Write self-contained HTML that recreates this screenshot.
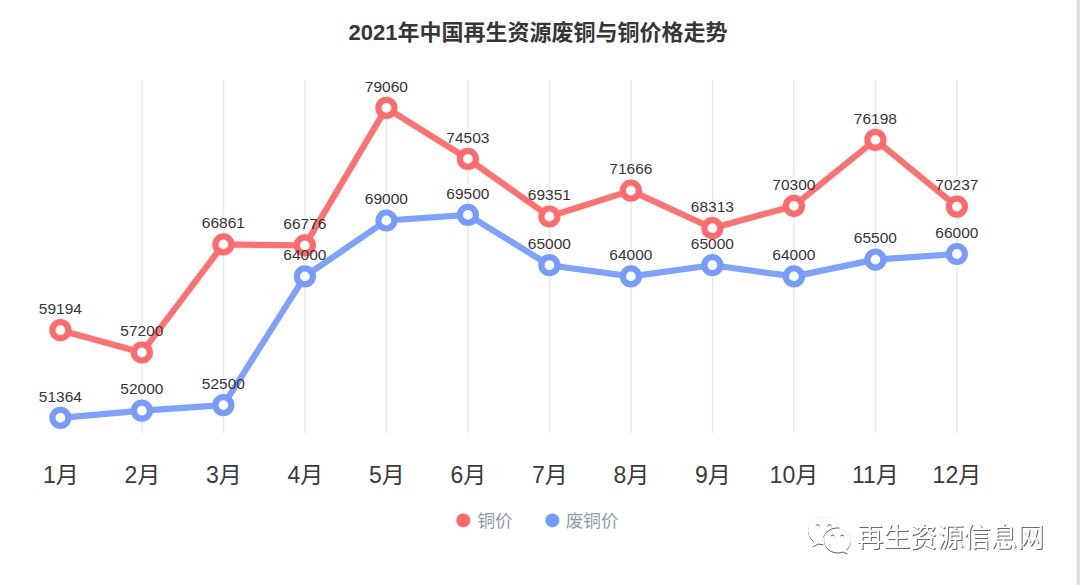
<!DOCTYPE html>
<html lang="zh"><head><meta charset="utf-8"><title>2021年中国再生资源废铜与铜价格走势</title>
<style>
html,body{margin:0;padding:0;background:#fff}
body{width:1080px;height:585px;overflow:hidden;position:relative;font-family:"Liberation Sans",sans-serif}
svg{position:absolute;left:0;top:0;display:block}
</style></head><body>
<svg width="1080" height="585" viewBox="0 0 1080 585">
<defs><filter id="ws" x="-5%" y="-20%" width="110%" height="140%" color-interpolation-filters="sRGB"><feGaussianBlur in="SourceAlpha" stdDeviation="0.45" result="b"/><feOffset in="b" dx="0.95" dy="0.95" result="o"/><feFlood flood-color="#6a6a6a" flood-opacity="1"/><feComposite in2="o" operator="in" result="sh"/><feMerge><feMergeNode in="sh"/><feMergeNode in="SourceGraphic"/></feMerge></filter><filter id="wl" x="-20%" y="-20%" width="140%" height="140%" color-interpolation-filters="sRGB"><feGaussianBlur in="SourceAlpha" stdDeviation="0.6" result="b"/><feOffset in="b" dx="0.35" dy="1.0" result="o"/><feFlood flood-color="#606060" flood-opacity="1"/><feComposite in2="o" operator="in" result="sh"/><feGaussianBlur in="SourceAlpha" stdDeviation="0.6" result="b2"/><feFlood flood-color="#707070" flood-opacity="0.5"/><feComposite in2="b2" operator="in" result="gl"/><feMerge><feMergeNode in="gl"/><feMergeNode in="sh"/><feMergeNode in="SourceGraphic"/></feMerge></filter><mask id="cut" maskUnits="userSpaceOnUse" x="800" y="510" width="60" height="50"><rect x="800" y="510" width="60" height="50" fill="#fff"/><ellipse cx="837.6" cy="540.6" rx="14.8" ry="13.2" fill="#000"/></mask></defs>
<rect x="1076" y="0" width="1" height="585" fill="#f9f9fb"/>
<rect x="1077" y="0" width="1" height="585" fill="#d9dbe1"/>
<rect x="1078" y="0" width="1" height="585" fill="#dcdee4"/>
<rect x="1079" y="0" width="1" height="585" fill="#dee0e6"/>
<g fill="#e8e8e8"><rect x="141.35" y="79.8" width="1.4" height="353.3" /><rect x="222.85" y="79.8" width="1.4" height="353.3" /><rect x="304.35" y="79.8" width="1.4" height="353.3" /><rect x="385.85" y="79.8" width="1.4" height="353.3" /><rect x="467.35" y="79.8" width="1.4" height="353.3" /><rect x="548.85" y="79.8" width="1.4" height="353.3" /><rect x="630.35" y="79.8" width="1.4" height="353.3" /><rect x="711.85" y="79.8" width="1.4" height="353.3" /><rect x="793.35" y="79.8" width="1.4" height="353.3" /><rect x="874.85" y="79.8" width="1.4" height="353.3" /><rect x="956.35" y="79.8" width="1.4" height="353.3" /></g>
<text x="538" y="39.8" text-anchor="middle" font-size="22" font-weight="bold" fill="#363636" style="font-family:'Liberation Sans','Noto Sans CJK SC',sans-serif">2021年中国再生资源废铜与铜价格走势</text>
<polyline points="60.4,417.8 141.9,410.7 223.4,405.1 304.9,276.4 386.4,220.5 467.9,214.9 549.4,265.2 630.9,276.4 712.4,265.2 793.9,276.4 875.4,259.6 956.9,254.0" fill="none" stroke="#7ea1ff" stroke-width="6.2" stroke-linejoin="round" stroke-linecap="round"/><circle cx="60.4" cy="417.8" r="8" fill="#fff" stroke="#759bff" stroke-width="6.2"/><circle cx="141.9" cy="410.7" r="8" fill="#fff" stroke="#759bff" stroke-width="6.2"/><circle cx="223.4" cy="405.1" r="8" fill="#fff" stroke="#759bff" stroke-width="6.2"/><circle cx="304.9" cy="276.4" r="8" fill="#fff" stroke="#759bff" stroke-width="6.2"/><circle cx="386.4" cy="220.5" r="8" fill="#fff" stroke="#759bff" stroke-width="6.2"/><circle cx="467.9" cy="214.9" r="8" fill="#fff" stroke="#759bff" stroke-width="6.2"/><circle cx="549.4" cy="265.2" r="8" fill="#fff" stroke="#759bff" stroke-width="6.2"/><circle cx="630.9" cy="276.4" r="8" fill="#fff" stroke="#759bff" stroke-width="6.2"/><circle cx="712.4" cy="265.2" r="8" fill="#fff" stroke="#759bff" stroke-width="6.2"/><circle cx="793.9" cy="276.4" r="8" fill="#fff" stroke="#759bff" stroke-width="6.2"/><circle cx="875.4" cy="259.6" r="8" fill="#fff" stroke="#759bff" stroke-width="6.2"/><circle cx="956.9" cy="254.0" r="8" fill="#fff" stroke="#759bff" stroke-width="6.2"/>
<polyline points="60.4,330.2 141.9,352.5 223.4,244.4 304.9,245.4 386.4,107.9 467.9,158.9 549.4,216.5 630.9,190.6 712.4,228.2 793.9,205.9 875.4,139.9 956.9,206.6" fill="none" stroke="#ff7171" stroke-width="6.2" stroke-linejoin="round" stroke-linecap="round"/><circle cx="60.4" cy="330.2" r="8" fill="#fff" stroke="#ff6a6a" stroke-width="6.2"/><circle cx="141.9" cy="352.5" r="8" fill="#fff" stroke="#ff6a6a" stroke-width="6.2"/><circle cx="223.4" cy="244.4" r="8" fill="#fff" stroke="#ff6a6a" stroke-width="6.2"/><circle cx="304.9" cy="245.4" r="8" fill="#fff" stroke="#ff6a6a" stroke-width="6.2"/><circle cx="386.4" cy="107.9" r="8" fill="#fff" stroke="#ff6a6a" stroke-width="6.2"/><circle cx="467.9" cy="158.9" r="8" fill="#fff" stroke="#ff6a6a" stroke-width="6.2"/><circle cx="549.4" cy="216.5" r="8" fill="#fff" stroke="#ff6a6a" stroke-width="6.2"/><circle cx="630.9" cy="190.6" r="8" fill="#fff" stroke="#ff6a6a" stroke-width="6.2"/><circle cx="712.4" cy="228.2" r="8" fill="#fff" stroke="#ff6a6a" stroke-width="6.2"/><circle cx="793.9" cy="205.9" r="8" fill="#fff" stroke="#ff6a6a" stroke-width="6.2"/><circle cx="875.4" cy="139.9" r="8" fill="#fff" stroke="#ff6a6a" stroke-width="6.2"/><circle cx="956.9" cy="206.6" r="8" fill="#fff" stroke="#ff6a6a" stroke-width="6.2"/>
<g fill="#363636" text-anchor="middle" font-size="15.5" style="font-family:'Liberation Sans',sans-serif"><text x="60.4" y="401.5">51364</text><text x="141.9" y="394.4">52000</text><text x="223.4" y="388.8">52500</text><text x="304.9" y="260.1">64000</text><text x="386.4" y="204.2">69000</text><text x="467.9" y="198.6">69500</text><text x="549.4" y="248.9">65000</text><text x="630.9" y="260.1">64000</text><text x="712.4" y="248.9">65000</text><text x="793.9" y="260.1">64000</text><text x="875.4" y="243.3">65500</text><text x="956.9" y="237.7">66000</text><text x="60.4" y="313.9">59194</text><text x="141.9" y="336.2">57200</text><text x="223.4" y="228.1">66861</text><text x="304.9" y="229.1">66776</text><text x="386.4" y="91.6">79060</text><text x="467.9" y="142.6">74503</text><text x="549.4" y="200.2">69351</text><text x="630.9" y="174.3">71666</text><text x="712.4" y="211.9">68313</text><text x="793.9" y="189.6">70300</text><text x="875.4" y="123.6">76198</text><text x="956.9" y="190.3">70237</text></g>
<g fill="#3a3a3a" text-anchor="middle" font-size="23" style="font-family:'Liberation Sans','Noto Sans CJK SC',sans-serif"><text x="60.9" y="483">1月</text><text x="142.4" y="483">2月</text><text x="223.9" y="483">3月</text><text x="305.4" y="483">4月</text><text x="386.9" y="483">5月</text><text x="468.4" y="483">6月</text><text x="549.9" y="483">7月</text><text x="631.4" y="483">8月</text><text x="712.9" y="483">9月</text><text x="793.9" y="483">10月</text><text x="875.4" y="483">11月</text><text x="956.9" y="483">12月</text></g>
<circle cx="463.3" cy="520.4" r="7" fill="#ff6a6a"/>
<text x="477.4" y="526.9" font-size="17.6" fill="#9098a8" style="font-family:'Liberation Sans','Noto Sans CJK SC',sans-serif">铜价</text>
<circle cx="552.4" cy="520.4" r="7" fill="#759bff"/>
<text x="565.7" y="526.9" font-size="17.6" fill="#9098a8" style="font-family:'Liberation Sans','Noto Sans CJK SC',sans-serif">废铜价</text>
<g filter="url(#wl)"><g fill="#fff"><g mask="url(#cut)"><path fill-rule="evenodd" d="M808.10 530.60a15.90 13.50 0 1 0 31.80 0a15.90 13.50 0 1 0 -31.80 0zM815.70 526.30a2.10 2.10 0 1 0 4.20 0a2.10 2.10 0 1 0 -4.20 0zM827.30 526.30a2.10 2.10 0 1 0 4.20 0a2.10 2.10 0 1 0 -4.20 0z"/><path d="M813.6 540.2L812.7 546.4L819.2 543z"/></g><path fill-rule="evenodd" d="M824.20 540.60a13.40 11.80 0 1 0 26.80 0a13.40 11.80 0 1 0 -26.80 0zM830.90 536.20a1.80 1.80 0 1 0 3.60 0a1.80 1.80 0 1 0 -3.60 0zM840.40 536.20a1.80 1.80 0 1 0 3.60 0a1.80 1.80 0 1 0 -3.60 0z"/><path d="M842.2 551L847.4 553.8L846.4 549z"/></g></g>
<g filter="url(#ws)"><text x="856.5" y="546.7" font-size="26.8" fill="#fff" style="font-family:'Liberation Sans','Noto Sans CJK SC',sans-serif">再生资源信息网</text></g>
</svg>
</body></html>
